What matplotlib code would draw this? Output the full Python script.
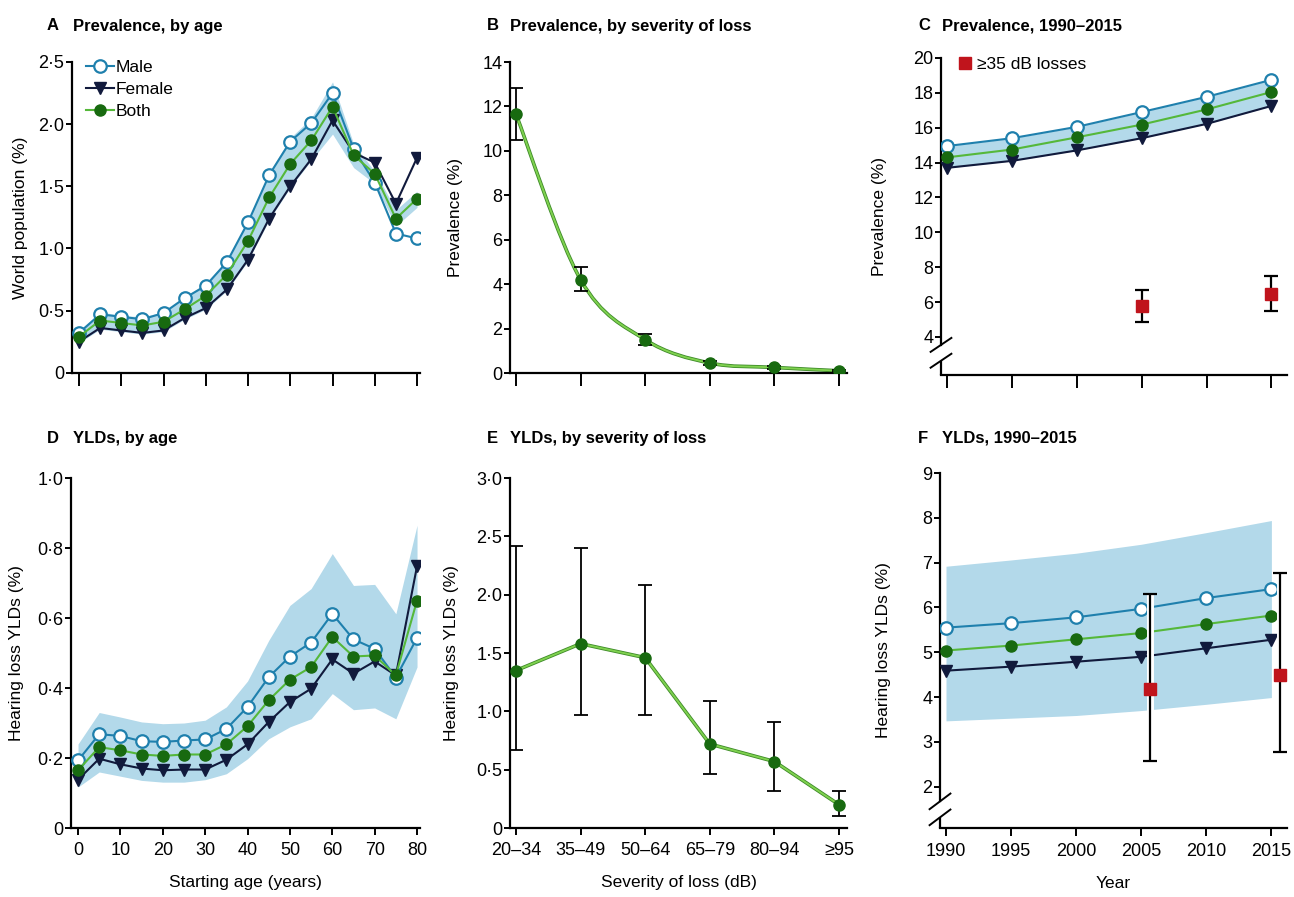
import numpy as np
import matplotlib
matplotlib.use("Agg")
import matplotlib.pyplot as plt
from matplotlib.path import Path
from matplotlib.patches import PathPatch
from matplotlib.ticker import FuncFormatter
from matplotlib.lines import Line2D

plt.rcParams['font.family'] = ['Liberation Sans', 'DejaVu Sans']

# ---------------- data ----------------
ages = [0, 5, 10, 15, 20, 25, 30, 35, 40, 45, 50, 55, 60, 65, 70, 75, 80]

A_male = [0.32, 0.47, 0.45, 0.43, 0.48, 0.60, 0.70, 0.89, 1.21, 1.59, 1.86, 2.01, 2.25, 1.80, 1.53, 1.12, 1.08]
A_female = [0.25, 0.36, 0.34, 0.32, 0.34, 0.44, 0.52, 0.67, 0.91, 1.24, 1.50, 1.72, 2.03, 1.77, 1.69, 1.36, 1.73]
A_both = [0.29, 0.42, 0.40, 0.38, 0.41, 0.51, 0.62, 0.79, 1.06, 1.41, 1.68, 1.87, 2.14, 1.75, 1.60, 1.24, 1.40]
A_upper = [0.34, 0.49, 0.46, 0.45, 0.49, 0.61, 0.72, 0.91, 1.23, 1.61, 1.89, 2.05, 2.34, 1.84, 1.62, 1.31, 1.46]
A_lower = [0.24, 0.35, 0.33, 0.31, 0.33, 0.43, 0.51, 0.66, 0.90, 1.23, 1.49, 1.71, 1.92, 1.65, 1.52, 1.18, 1.33]

severity = ["20\u201334", "35\u201349", "50\u201364", "65\u201379", "80\u201394", "\u226595"]
B_prev = [11.65, 4.2, 1.5, 0.45, 0.25, 0.1]
B_low = [10.5, 3.7, 1.25, 0.38, 0.18, 0.05]
B_high = [12.85, 4.75, 1.75, 0.52, 0.32, 0.15]

years = [1990, 1995, 2000, 2005, 2010, 2015]
C_male = [14.95, 15.40, 16.05, 16.90, 17.77, 18.75]
C_both = [14.30, 14.75, 15.45, 16.18, 17.05, 18.05]
C_female = [13.70, 14.10, 14.70, 15.40, 16.22, 17.25]
red_years = [2005, 2015]
C_red = [5.76, 6.45]
C_red_low = [4.84, 5.47]
C_red_high = [6.72, 7.52]

D_male = [0.193, 0.268, 0.263, 0.248, 0.246, 0.250, 0.253, 0.283, 0.346, 0.431, 0.490, 0.530, 0.612, 0.539, 0.512, 0.430, 0.543]
D_both = [0.165, 0.231, 0.222, 0.210, 0.206, 0.210, 0.210, 0.239, 0.291, 0.365, 0.424, 0.460, 0.546, 0.490, 0.493, 0.436, 0.650]
D_female = [0.138, 0.198, 0.182, 0.170, 0.165, 0.167, 0.167, 0.195, 0.239, 0.303, 0.360, 0.398, 0.482, 0.441, 0.476, 0.436, 0.748]
D_upper = [0.24, 0.33, 0.317, 0.303, 0.298, 0.30, 0.308, 0.346, 0.42, 0.536, 0.636, 0.684, 0.784, 0.693, 0.696, 0.612, 0.865]
D_lower = [0.117, 0.16, 0.148, 0.136, 0.131, 0.131, 0.138, 0.155, 0.198, 0.255, 0.289, 0.312, 0.384, 0.338, 0.343, 0.312, 0.46]

E_ylds = [1.35, 1.58, 1.46, 0.72, 0.57, 0.20]
E_low = [0.67, 0.97, 0.97, 0.46, 0.32, 0.10]
E_high = [2.42, 2.40, 2.08, 1.09, 0.91, 0.32]

F_male = [5.55, 5.65, 5.78, 5.97, 6.21, 6.41]
F_both = [5.04, 5.15, 5.29, 5.43, 5.63, 5.82]
F_female = [4.59, 4.68, 4.79, 4.90, 5.09, 5.28]
F_upper = [6.92, 7.06, 7.21, 7.41, 7.67, 7.94]
F_lower = [3.47, 3.53, 3.59, 3.70, 3.84, 3.99]
F_red = [4.17, 4.49]
F_red_low = [2.57, 2.78]
F_red_high = [6.30, 6.78]

# ---------------- style ----------------
W, H = 1294, 897
C_MALE = '#1f80ad'
C_FEM = '#111a3c'
C_BOTH_LINE = '#55b83a'
C_BOTH_MK = '#186a10'
C_BAND = '#b3d9ea'
C_RED = '#c0141c'
TICK_FS = 13
LAB_FS = 12.5
TITLE_FS = 12

fig = plt.figure(figsize=(W / 100, H / 100), dpi=100)


def px_axes(l, r, t, b):
    return fig.add_axes([l / W, 1 - b / H, (r - l) / W, (b - t) / H])


def dotfmt(v, pos):
    if abs(v) < 1e-9:
        return '0'
    return ('%.1f' % v).replace('.', '\u00b7')


def style(ax, xtick_len=9):
    for s in ['top', 'right']:
        ax.spines[s].set_visible(False)
    for s in ['left', 'bottom']:
        ax.spines[s].set_linewidth(1.6)
    ax.tick_params(axis='y', length=4.5, width=1.4, labelsize=TICK_FS, pad=1)
    ax.tick_params(axis='x', length=xtick_len, width=1.4, labelsize=TICK_FS, pad=5)


def three_lines(ax, x, male, female, both):
    ax.plot(x, male, '-', color=C_MALE, lw=1.5, marker='o', ms=9, mfc='white', mec=C_MALE, mew=1.6, zorder=4)
    ax.plot(x, female, '-', color=C_FEM, lw=1.5, marker='v', ms=8.5, mfc=C_FEM, mec=C_FEM, zorder=3)
    ax.plot(x, both, '-', color=C_BOTH_LINE, lw=1.5, marker='o', ms=8, mfc=C_BOTH_MK, mec=C_BOTH_MK, zorder=5)


def title(xl, xt, y, letter, text):
    fig.text(xl / W, 1 - y / H, letter, fontsize=TITLE_FS, fontweight='bold', va='center', ha='left')
    fig.text(xt / W, 1 - y / H, text, fontsize=TITLE_FS, fontweight='bold', va='center', ha='left')


def axis_break(ax, ybreak_frac_top, ybreak_frac_bot):
    lo, hi = ax.get_ylim()
    ax.spines['left'].set_bounds(lo + (hi - lo) * ybreak_frac_top, hi)
    ax.plot([0, 0], [0, ybreak_frac_bot], transform=ax.transAxes, color='black', lw=1.6, clip_on=False, solid_capstyle='butt')
    dx, dy = 0.03, 0.022
    for yy in (ybreak_frac_top, ybreak_frac_bot):
        ax.plot([-dx, dx], [yy - dy, yy + dy], transform=ax.transAxes, color='black', lw=1.4, clip_on=False)


def smooth_curve(ax, x, y, **kw):
    pts = np.column_stack([x, y]).astype(float)
    verts = [tuple(pts[0])]
    codes = [Path.MOVETO]
    n = len(pts)
    for i in range(n - 1):
        p0 = pts[i - 1] if i > 0 else pts[i]
        p1 = pts[i]
        p2 = pts[i + 1]
        p3 = pts[i + 2] if i + 2 < n else pts[i + 1]
        c1 = p1 + (p2 - p0) / 6.0
        c2 = p2 - (p3 - p1) / 6.0
        verts += [tuple(c1), tuple(c2), tuple(p2)]
        codes += [Path.CURVE4] * 3
    ax.add_patch(PathPatch(Path(verts, codes), fill=False, **kw))


# ---------------- A ----------------
axA = px_axes(72, 420, 62, 372.7)
axA.fill_between(ages, A_lower, A_upper, color=C_BAND, lw=0, zorder=1)
three_lines(axA, ages, A_male, A_female, A_both)
axA.set_xlim(-1.66, 80.7)
axA.set_ylim(0, 2.5)
axA.set_yticks([0, 0.5, 1.0, 1.5, 2.0, 2.5])
axA.yaxis.set_major_formatter(FuncFormatter(dotfmt))
axA.set_xticks(range(0, 81, 10))
axA.set_xticklabels([])
style(axA, xtick_len=9)
axA.set_ylabel('World population (%)', fontsize=LAB_FS)
axA.yaxis.set_label_coords(-0.125, 0.5)
handles = [
    Line2D([], [], color=C_MALE, lw=1.5, marker='o', ms=9, mfc='white', mec=C_MALE, mew=1.6),
    Line2D([], [], color=C_FEM, lw=1.5, marker='v', ms=8.5, mfc=C_FEM, mec=C_FEM),
    Line2D([], [], color=C_BOTH_LINE, lw=1.5, marker='o', ms=8, mfc=C_BOTH_MK, mec=C_BOTH_MK),
]
axA.legend(handles, ['Male', 'Female', 'Both'], loc='upper left', bbox_to_anchor=(0.01, 1.04),
           frameon=False, fontsize=12.5, handlelength=1.6, handletextpad=0.1, labelspacing=0.4,
           borderpad=0.1)
title(47, 73, 26, 'A', 'Prevalence, by age')

# ---------------- B ----------------
axB = px_axes(510, 847, 62, 373)
xb = np.arange(len(severity))
smooth_curve(axB, xb, B_prev, edgecolor='#3d8a28', lw=2.6, zorder=2)
smooth_curve(axB, xb, B_prev, edgecolor='#7fd14f', lw=1.4, zorder=2)
axB.errorbar(xb, B_prev, yerr=[np.array(B_prev) - np.array(B_low), np.array(B_high) - np.array(B_prev)],
             fmt='none', ecolor='black', elinewidth=1.3, capsize=5, capthick=1.3, zorder=3)
axB.plot(xb, B_prev, 'o', ms=8, mfc=C_BOTH_MK, mec=C_BOTH_MK, zorder=4)
axB.set_xlim(-0.093, 5.124)
axB.set_ylim(0, 14)
axB.set_yticks(range(0, 15, 2))
axB.set_xticks(xb)
axB.set_xticklabels([])
style(axB, xtick_len=9)
axB.set_ylabel('Prevalence (%)', fontsize=LAB_FS)
axB.yaxis.set_label_coords(-0.14, 0.5)
title(487, 510, 26, 'B', 'Prevalence, by severity of loss')

# ---------------- C ----------------
axC = px_axes(941, 1287, 58, 375)
axC.fill_between(years, C_female, C_male, color=C_BAND, lw=0, zorder=1)
three_lines(axC, years, C_male, C_female, C_both)
axC.errorbar(red_years, C_red, yerr=[np.array(C_red) - np.array(C_red_low), np.array(C_red_high) - np.array(C_red)],
             fmt='none', ecolor='black', elinewidth=1.6, capsize=5, capthick=1.6, zorder=3)
axC.plot(red_years, C_red, 's', ms=8, mfc=C_RED, mec=C_RED, zorder=4)
axC.set_xlim(1989.54, 2016.2)
axC.set_ylim(1.82, 20)
axC.set_yticks(range(4, 21, 2))
axC.set_xticks(years)
axC.set_xticklabels([])
style(axC, xtick_len=9)
axis_break(axC, 0.095, 0.045)
axC.set_ylabel('Prevalence (%)', fontsize=LAB_FS)
axC.yaxis.set_label_coords(-0.155, 0.5)
axC.legend([Line2D([], [], ls='none', marker='s', ms=8, mfc=C_RED, mec=C_RED)], ['\u226535 dB losses'],
           loc='upper left', bbox_to_anchor=(0.02, 1.035), frameon=False, fontsize=12.5,
           handlelength=0.8, handletextpad=0.3, borderpad=0.1)
title(918, 942, 26, 'C', 'Prevalence, 1990\u20132015')

# ---------------- D ----------------
axD = px_axes(71, 420, 478, 828)
axD.fill_between(ages, D_lower, D_upper, color=C_BAND, lw=0, zorder=1)
three_lines(axD, ages, D_male, D_female, D_both)
axD.set_xlim(-1.66, 80.7)
axD.set_ylim(0, 1.0)
axD.set_yticks([0, 0.2, 0.4, 0.6, 0.8, 1.0])
axD.yaxis.set_major_formatter(FuncFormatter(dotfmt))
axD.set_xticks(range(0, 81, 10))
style(axD, xtick_len=5)
axD.set_ylabel('Hearing loss YLDs (%)', fontsize=LAB_FS)
axD.yaxis.set_label_coords(-0.135, 0.5)
axD.set_xlabel('Starting age (years)', fontsize=LAB_FS)
axD.xaxis.set_label_coords(0.5, -0.135)
title(47, 73, 438, 'D', 'YLDs, by age')

# ---------------- E ----------------
axE = px_axes(510, 847, 478, 828)
xe = np.arange(len(severity))
axE.plot(xe, E_ylds, '-', color='#3d8a28', lw=2.6, zorder=2)
axE.plot(xe, E_ylds, '-', color='#7fd14f', lw=1.4, zorder=2)
axE.errorbar(xe, E_ylds, yerr=[np.array(E_ylds) - np.array(E_low), np.array(E_high) - np.array(E_ylds)],
             fmt='none', ecolor='black', elinewidth=1.3, capsize=5, capthick=1.3, zorder=3)
axE.plot(xe, E_ylds, 'o', ms=8, mfc=C_BOTH_MK, mec=C_BOTH_MK, zorder=4)
axE.set_xlim(-0.093, 5.124)
axE.set_ylim(0, 3.0)
axE.set_yticks([0, 0.5, 1.0, 1.5, 2.0, 2.5, 3.0])
axE.yaxis.set_major_formatter(FuncFormatter(dotfmt))
axE.set_xticks(xe)
axE.set_xticklabels(severity)
style(axE, xtick_len=5)
axE.set_ylabel('Hearing loss YLDs (%)', fontsize=LAB_FS)
axE.yaxis.set_label_coords(-0.15, 0.5)
axE.set_xlabel('Severity of loss (dB)', fontsize=LAB_FS)
axE.xaxis.set_label_coords(0.5, -0.135)
title(487, 510, 438, 'E', 'YLDs, by severity of loss')

# ---------------- F ----------------
axF = px_axes(940, 1287, 473, 828)
axF.fill_between(years, F_lower, F_upper, color=C_BAND, lw=0, zorder=1)
three_lines(axF, years, F_male, F_female, F_both)
dodge = 0.65
fx = np.array(red_years) + dodge
yerrF = [np.array(F_red) - np.array(F_red_low), np.array(F_red_high) - np.array(F_red)]
axF.errorbar(fx, F_red, yerr=yerrF, fmt='none', ecolor='white', elinewidth=5, capsize=0, zorder=6)
axF.errorbar(fx, F_red, yerr=yerrF, fmt='none', ecolor='black', elinewidth=1.6, capsize=5, capthick=1.6, zorder=7)
axF.plot(fx, F_red, 's', ms=8, mfc=C_RED, mec=C_RED, zorder=8)
axF.set_xlim(1989.54, 2016.2)
axF.set_ylim(1.08, 9)
axF.set_yticks(range(2, 10))
axF.set_xticks(years)
style(axF, xtick_len=6)
axis_break(axF, 0.075, 0.03)
axF.set_ylabel('Hearing loss YLDs (%)', fontsize=LAB_FS)
axF.yaxis.set_label_coords(-0.14, 0.5)
axF.set_xlabel('Year', fontsize=LAB_FS)
axF.xaxis.set_label_coords(0.5, -0.135)
title(918, 942, 438, 'F', 'YLDs, 1990\u20132015')

fig.savefig('out.png', dpi=100)
